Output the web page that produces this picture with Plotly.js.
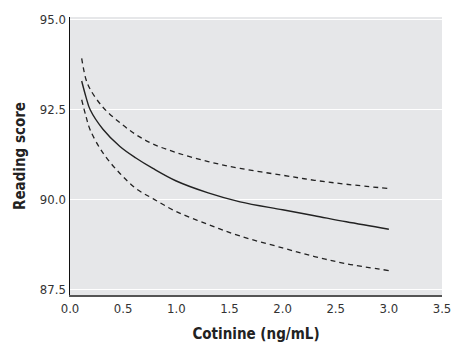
<!DOCTYPE html>
<html>
<head>
<meta charset="utf-8">
<script src="https://cdn.plot.ly/plotly-3.0.1.min.js"></script>
<style>
html,body{margin:0;padding:0;background:#fff;}
#chart{width:451px;height:343px;}
#chart svg text{font-stretch:condensed !important;}
</style>
</head>
<body>
<div id="chart"></div>
<script>
// Cotinine (ng/mL)
var cotinine = [0.11, 0.15, 0.19, 0.31, 0.47, 0.62, 0.78, 1.0, 1.3, 1.6, 2.0, 2.3, 2.6, 3.0];
// Estimated reading score
var estimate = [93.30, 92.86, 92.50, 91.96, 91.48, 91.16, 90.87, 90.52, 90.19, 89.94, 89.72, 89.555, 89.385, 89.18];
// Upper confidence bound
var upper = [93.93, 93.35, 93.07, 92.57, 92.14, 91.81, 91.55, 91.31, 91.06, 90.87, 90.68, 90.54, 90.43, 90.31];
// Lower confidence bound
var lower = [92.78, 92.32, 91.94, 91.30, 90.73, 90.31, 90.03, 89.67, 89.31, 88.99, 88.66, 88.42, 88.22, 88.03];

var xTicks = [0, 0.5, 1.0, 1.5, 2.0, 2.5, 3.0, 3.5];
var xTickText = ["0.0", "0.5", "1.0", "1.5", "2.0", "2.5", "3.0", "3.5"];
var yTicks = [87.5, 90.0, 92.5, 95.0];
var yTickText = ["87.5", "90.0", "92.5", "95.0"];

var FONT = "DejaVu Sans Condensed, DejaVu Sans, sans-serif";

var traces = [
  {x: cotinine, y: upper, mode: "lines", line: {color: "#222", width: 1.3, dash: "5px,4px", shape: "spline", smoothing: 1}, hoverinfo: "skip"},
  {x: cotinine, y: lower, mode: "lines", line: {color: "#222", width: 1.3, dash: "5px,4px", shape: "spline", smoothing: 1}, hoverinfo: "skip"},
  {x: cotinine, y: estimate, mode: "lines", line: {color: "#222", width: 1.4, shape: "spline", smoothing: 1}, hoverinfo: "skip"}
];

var layout = {
  width: 451, height: 343,
  margin: {l: 70, r: 9, t: 17, b: 48},
  paper_bgcolor: "#ffffff",
  plot_bgcolor: "#e6e7e9",
  showlegend: false,
  font: {family: FONT, size: 13, color: "#333"},
  xaxis: {
    range: [0, 3.5],
    tickvals: xTicks, ticktext: xTickText,
    showgrid: false, zeroline: false,
    showline: true, linecolor: "#555", linewidth: 2,
    ticks: "",
    ticklabeloverflow: "allow",
    tickfont: {family: FONT, size: 13, color: "#333"},
    title: {text: "Cotinine (ng/mL)", font: {family: FONT, size: 15, color: "#222", weight: "bold"}, standoff: 17}
  },
  yaxis: {
    range: [87.35, 95.08],
    tickvals: yTicks, ticktext: yTickText,
    showgrid: true, gridcolor: "#ffffff", gridwidth: 1,
    zeroline: false,
    showline: true, linecolor: "#111", linewidth: 1.5,
    ticks: "",
    tickfont: {family: FONT, size: 13, color: "#333"},
    title: {text: "Reading score", font: {family: FONT, size: 15, color: "#222", weight: "bold"}, standoff: 10}
  }
};

Plotly.newPlot("chart", traces, layout, {staticPlot: true, displayModeBar: false});
</script>
</body>
</html>
